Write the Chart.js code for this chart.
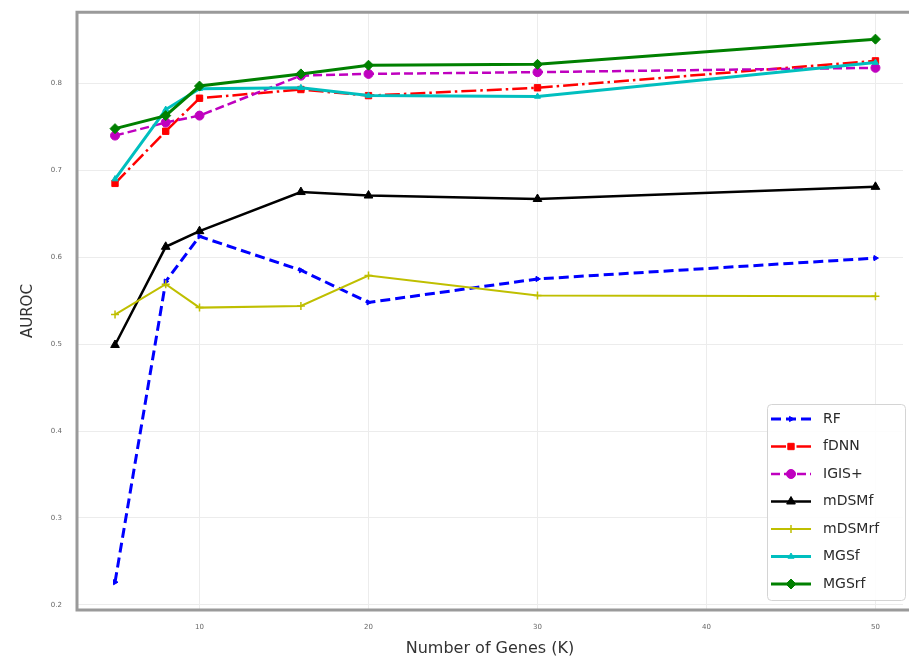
<!DOCTYPE html>
<html>
<head>
<meta charset="utf-8">
<script src="https://cdn.jsdelivr.net/npm/chart.js@4.4.1/dist/chart.umd.min.js"></script>
<style>
  html, body { margin: 0; padding: 0; background: #fff; overflow: hidden; }
  #page { position: relative; width: 909px; height: 661px; overflow: hidden; }
  #wrap { position: absolute; left: 0; top: -7px; width: 909px; height: 668px; }
</style>
</head>
<body>
<div id="page"><div id="wrap"><canvas id="chart"></canvas></div></div>
<script>
  // number of genes (K)
  const genes = [5, 8, 10, 16, 20, 30, 50];
  const xTicks = [10, 20, 30, 40, 50];
  const yTicks = [0.2, 0.3, 0.4, 0.5, 0.6, 0.7, 0.8];

  const seriesNames = ["RF", "fDNN", "IGIS+", "mDSMf", "mDSMrf", "MGSf", "MGSrf"];
  const rf = [0.226, 0.572, 0.624, 0.585, 0.548, 0.575, 0.599];
  const fdnn = [0.685, 0.745, 0.783, 0.793, 0.786, 0.795, 0.826];
  const igis = [0.740, 0.755, 0.763, 0.809, 0.811, 0.813, 0.818];
  const mdsmf = [0.499, 0.612, 0.630, 0.675, 0.671, 0.667, 0.681];
  const mdsmrf = [0.534, 0.569, 0.542, 0.544, 0.579, 0.556, 0.555];
  const mgsf = [0.690, 0.770, 0.794, 0.795, 0.786, 0.785, 0.824];
  const mgsrf = [0.748, 0.763, 0.797, 0.811, 0.821, 0.822, 0.851];

  const FONT = "'DejaVu Sans', sans-serif";

  const styles = [
    { color: "#0000ff", width: 3, dash: [10, 5], point: "triangle", rotation: 90, radius: 3 },
    { color: "#ff0000", width: 2.5, dash: [15, 4, 2.5, 4], point: "rect", rotation: 0, radius: 4.5 },
    { color: "#bf00bf", width: 2.5, dash: [9, 4], point: "circle", rotation: 0, radius: 4.5 },
    { color: "#000000", width: 2.5, dash: [], point: "triangle", rotation: 0, radius: 5 },
    { color: "#bfbf00", width: 2, dash: [], point: "cross", rotation: 0, radius: 4 },
    { color: "#00bfbf", width: 3, dash: [], point: "triangle", rotation: 0, radius: 3.5 },
    { color: "#008000", width: 3, dash: [], point: "rectRot", rotation: 0, radius: 5 }
  ];

  const values = [rf, fdnn, igis, mdsmf, mdsmrf, mgsf, mgsrf];

  const datasets = values.map((vals, i) => {
    const s = styles[i];
    return {
      label: seriesNames[i],
      data: vals.map((v, j) => ({ x: genes[j], y: v })),
      borderColor: s.color,
      backgroundColor: s.color,
      borderWidth: s.width,
      borderDash: s.dash,
      pointStyle: s.point,
      pointRotation: s.rotation,
      pointRadius: s.radius,
      pointBorderWidth: s.point === "cross" ? 1.5 : 1,
      pointBackgroundColor: s.color,
      pointBorderColor: s.color,
      tension: 0,
      fill: false,
      order: values.length - i
    };
  });

  // matplotlib-like frame: top, left and bottom spines (right side is cut off)
  const framePlugin = {
    id: "frame",
    afterDatasetsDraw(chart) {
      const { ctx, chartArea: a } = chart;
      ctx.save();
      ctx.strokeStyle = "#9a9a9a";
      ctx.lineWidth = 3;
      ctx.beginPath();
      ctx.moveTo(chart.width + 5, a.top);
      ctx.lineTo(a.left, a.top);
      ctx.lineTo(a.left, a.bottom);
      ctx.lineTo(chart.width + 5, a.bottom);
      ctx.stroke();
      ctx.restore();
    }
  };

  // legend box in the lower right corner of the plot (canvas is shifted 7px up)
  const legendPlugin = {
    id: "boxLegend",
    afterDraw(chart) {
      const ctx = chart.ctx;
      const left = 767, top = 411, w = 138, h = 196;
      const rowH = 27.5;
      ctx.save();
      ctx.fillStyle = "rgba(255,255,255,0.9)";
      ctx.strokeStyle = "#d4d4d4";
      ctx.lineWidth = 1;
      ctx.beginPath();
      ctx.roundRect(left + 0.5, top + 0.5, w, h, 4);
      ctx.fill();
      ctx.stroke();
      chart.data.datasets.forEach((ds, i) => {
        const y = top + 15 + i * rowH;
        const x0 = left + 4, x1 = left + 44;
        ctx.save();
        ctx.strokeStyle = ds.borderColor;
        ctx.lineWidth = ds.borderWidth;
        ctx.setLineDash(ds.borderDash || []);
        ctx.beginPath();
        ctx.moveTo(x0, y);
        ctx.lineTo(x1, y);
        ctx.stroke();
        ctx.setLineDash([]);
        ctx.fillStyle = ds.pointBackgroundColor;
        ctx.strokeStyle = ds.pointBorderColor;
        ctx.lineWidth = ds.pointBorderWidth;
        if (Chart.helpers && Chart.helpers.drawPoint) {
          Chart.helpers.drawPoint(ctx, {
            pointStyle: ds.pointStyle,
            rotation: ds.pointRotation,
            radius: ds.pointRadius,
            borderWidth: ds.pointBorderWidth
          }, (x0 + x1) / 2, y);
        }
        ctx.restore();
        ctx.fillStyle = "#2a2a2a";
        ctx.font = "14px " + FONT;
        ctx.textBaseline = "middle";
        ctx.textAlign = "left";
        ctx.fillText(ds.label, left + 56, y);
      });
      ctx.restore();
    }
  };

  new Chart(document.getElementById("chart"), {
    type: "line",
    data: { datasets },
    options: {
      responsive: true,
      maintainAspectRatio: false,
      animation: false,
      layout: { padding: { top: 5, right: 0, left: 0, bottom: 0 } },
      plugins: {
        legend: { display: false },
        tooltip: { enabled: false }
      },
      scales: {
        x: {
          type: "linear",
          min: 2.75,
          max: 51.63,
          afterBuildTicks: (scale) => { scale.ticks = xTicks.map((v) => ({ value: v })); },
          afterFit: (scale) => { scale.height = 51; },
          ticks: {
            font: { family: FONT, size: 7 },
            color: "#666",
            padding: 13,
            maxRotation: 0,
            callback: (v) => String(v)
          },
          grid: { color: "#ececec", lineWidth: 1, drawTicks: false },
          border: { display: false },
          title: {
            display: true,
            text: "Number of Genes (K)",
            font: { family: FONT, size: 16 },
            color: "#333",
            padding: { top: 0, bottom: 3 }
          }
        },
        y: {
          min: 0.194,
          max: 0.882,
          afterBuildTicks: (scale) => { scale.ticks = yTicks.map((v) => ({ value: v })); },
          afterFit: (scale) => { scale.width = 77; },
          ticks: {
            font: { family: FONT, size: 7 },
            color: "#666",
            padding: 15,
            callback: (v) => v.toFixed(1)
          },
          grid: { color: "#ececec", lineWidth: 1, drawTicks: false },
          border: { display: false },
          title: {
            display: true,
            text: "AUROC",
            font: { family: FONT, size: 15 },
            color: "#333",
            padding: { top: 19, bottom: 0 }
          }
        }
      }
    },
    plugins: [framePlugin, legendPlugin]
  });
</script>
</body>
</html>
